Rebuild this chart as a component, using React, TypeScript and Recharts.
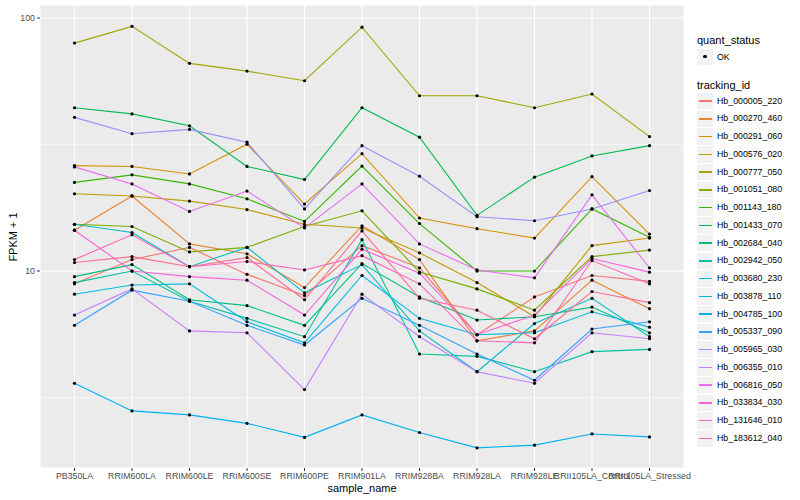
import React from 'react';
import { LineChart, Line, XAxis, YAxis, CartesianGrid, ReferenceLine } from 'recharts';

const samples = [
  'PB350LA', 'RRIM600LA', 'RRIM600LE', 'RRIM600SE', 'RRIM600PE', 'RRIM901LA',
  'RRIM928BA', 'RRIM928LA', 'RRIM928LE', 'RRII105LA_Control', 'RRII105LA_Stressed',
];

const trackingIds = [
  'Hb_000005_220', 'Hb_000270_460', 'Hb_000291_060', 'Hb_000576_020', 'Hb_000777_050',
  'Hb_001051_080', 'Hb_001143_180', 'Hb_001433_070', 'Hb_002684_040', 'Hb_002942_050',
  'Hb_003680_230', 'Hb_003878_110', 'Hb_004785_100', 'Hb_005337_090', 'Hb_005965_030',
  'Hb_006355_010', 'Hb_006816_050', 'Hb_033834_030', 'Hb_131646_010', 'Hb_183612_040',
];

const lineColors = [
  '#F8766D', '#EA8331', '#D89000', '#C09B00', '#A3A500',
  '#7CAE00', '#39B600', '#00BB4E', '#00BF7D', '#00C1A3',
  '#00BFC4', '#00BAE0', '#00B0F6', '#35A2FF', '#9590FF',
  '#C77CFF', '#E76BF3', '#FA62DB', '#FF62BC', '#FF6C91',
];

// FPKM + 1, one value per sample
const hb000005 = [8.9, 11.1, 12.4, 9.7, 8.0, 12.6, 10.3, 5.6, 7.9, 9.6, 9.1];
const hb000270 = [14.5, 19.8, 12.8, 11.7, 8.6, 15.1, 11.1, 5.3, 5.8, 9.2, 7.1];
const hb000291 = [26.1, 25.9, 24.2, 31.7, 18.4, 29.1, 16.2, 14.7, 13.5, 23.6, 14.0];
const hb000576 = [20.2, 19.8, 18.9, 17.5, 15.3, 14.8, 11.8, 9.0, 6.6, 12.6, 13.5];
const hb000777 = [79.6, 92.7, 66.2, 61.7, 56.5, 92.0, 49.3, 49.3, 44.2, 50.1, 34.0];
const hb001051 = [15.3, 15.0, 11.9, 12.4, 15.0, 17.3, 9.9, 8.5, 7.0, 11.4, 12.1];
const hb001143 = [22.4, 24.0, 22.1, 19.3, 15.7, 26.0, 15.4, 10.0, 10.0, 17.6, 13.6];
const hb001433 = [44.2, 41.8, 37.5, 25.9, 23.0, 44.2, 33.8, 16.6, 23.5, 28.5, 31.3];
const hb002684 = [9.5, 10.6, 7.7, 7.3, 6.1, 10.7, 7.9, 6.4, 6.6, 7.2, 5.7];
const hb002942 = [9.0, 10.0, 7.6, 6.5, 5.5, 13.3, 4.7, 4.6, 4.0, 4.8, 4.9];
const hb003680 = [15.3, 14.2, 10.4, 12.4, 8.2, 10.6, 5.8, 4.0, 6.2, 7.8, 5.5];
const hb003878 = [8.1, 8.8, 8.9, 6.3, 5.2, 9.6, 6.5, 5.6, 5.7, 6.9, 6.0];
const hb004785 = [3.6, 2.8, 2.7, 2.5, 2.2, 2.7, 2.3, 2.0, 2.05, 2.27, 2.21];
const hb005337 = [6.1, 8.4, 7.6, 6.1, 5.1, 7.8, 6.1, 4.7, 3.7, 5.9, 6.3];
const hb005965 = [40.5, 34.9, 36.3, 32.3, 17.6, 31.3, 23.7, 16.4, 15.8, 17.6, 20.8];
const hb006355 = [6.7, 8.5, 5.8, 5.7, 3.4, 8.1, 5.5, 4.0, 3.6, 5.7, 5.4];
const hb006816 = [25.8, 22.1, 17.2, 20.7, 14.8, 22.1, 12.8, 10.1, 9.4, 20.0, 10.3];
const hb033834 = [14.5, 10.0, 9.5, 9.2, 6.7, 12.2, 9.8, 5.6, 6.7, 11.2, 9.9];
const hb131646 = [11.1, 13.9, 10.4, 10.9, 10.1, 11.5, 8.9, 5.3, 5.2, 11.0, 8.9];
const hb183612 = [10.8, 11.4, 10.4, 11.3, 7.7, 14.4, 7.8, 7.0, 5.4, 8.3, 7.5];

const seriesValues = [
  hb000005, hb000270, hb000291, hb000576, hb000777,
  hb001051, hb001143, hb001433, hb002684, hb002942,
  hb003680, hb003878, hb004785, hb005337, hb005965,
  hb006355, hb006816, hb033834, hb131646, hb183612,
];

const yTicks = [10, 100];
const yMinor = [3.1623, 31.623];

const data = samples.map((s, i) => {
  const row: Record<string, any> = { sample: s };
  trackingIds.forEach((id, k) => { row[id] = seriesValues[k][i]; });
  return row;
});

const FONT = '"Liberation Sans", Arial, Helvetica, sans-serif';
const tickStyle = { fontSize: 8.8, fill: '#4D4D4D', fontFamily: FONT };

const App: React.FC = () => {
  return (
    <div style={{ position: 'absolute', left: 0, top: 0, width: 800, height: 500, background: '#fff', fontFamily: FONT }}>
      <LineChart width={800} height={500} data={data} margin={{ top: 5, right: 116, bottom: 0, left: 0 }}>
        <CartesianGrid fill="#EBEBEB" stroke="#FFFFFF" strokeWidth={1.07} />
        {yMinor.map((v) => (
          <ReferenceLine key={v} y={v} stroke="#FFFFFF" strokeWidth={0.55} />
        ))}
        <XAxis
          dataKey="sample"
          interval={0}
          padding={{ left: 34.5, right: 34.5 }}
          height={32}
          axisLine={false}
          tickLine={{ stroke: '#333333' }}
          tickSize={3}
          tick={tickStyle}
          label={{ value: 'sample_name', position: 'insideBottom', offset: 8, fontSize: 11, fill: '#000', fontFamily: FONT }}
        />
        <YAxis
          type="number"
          scale="log"
          domain={[1.665, 112.6]}
          allowDataOverflow
          ticks={yTicks}
          width={40}
          axisLine={false}
          tickLine={{ stroke: '#333333' }}
          tickSize={3}
          tick={tickStyle}
        />
        {trackingIds.map((id, k) => (
          <Line
            key={id}
            dataKey={id}
            stroke={lineColors[k]}
            strokeWidth={1.1}
            dot={false}
            activeDot={false}
            isAnimationActive={false}
          />
        ))}
        {trackingIds.map((id) => (
          <Line
            key={id + '_pts'}
            dataKey={id}
            stroke="none"
            dot={{ r: 1.6, fill: '#000', stroke: 'none' }}
            activeDot={false}
            isAnimationActive={false}
          />
        ))}
      </LineChart>

      <div style={{ position: 'absolute', left: 13, top: 237, transform: 'translate(-50%, -50%) rotate(-90deg)', fontSize: 11, whiteSpace: 'nowrap' }}>
        FPKM + 1
      </div>

      <div style={{ position: 'absolute', left: 697, top: 33.5, fontSize: 11, whiteSpace: 'nowrap' }}>quant_status</div>
      <div style={{ position: 'absolute', left: 697, top: 48.5, width: 16.3, height: 16.3, background: '#F2F2F2' }}>
        <div style={{ position: 'absolute', left: 6.4, top: 6.4, width: 3.4, height: 3.4, borderRadius: '50%', background: '#000' }} />
      </div>
      <div style={{ position: 'absolute', left: 717, top: 51.5, fontSize: 8.8, whiteSpace: 'nowrap' }}>OK</div>

      <div style={{ position: 'absolute', left: 697, top: 78.5, fontSize: 11, whiteSpace: 'nowrap' }}>tracking_id</div>
      {trackingIds.map((id, k) => {
        const cy = 101 + 17.75 * k;
        return (
          <React.Fragment key={id}>
            <div style={{ position: 'absolute', left: 697, top: cy - 8.2, width: 16.3, height: 16.6, background: '#F2F2F2' }}>
              <div style={{ position: 'absolute', left: 1.5, top: 7.6, width: 13.3, height: 1.4, background: lineColors[k] }} />
            </div>
            <div style={{ position: 'absolute', left: 717, top: cy - 5.5, fontSize: 8.8, whiteSpace: 'nowrap', lineHeight: '11px' }}>{id}</div>
          </React.Fragment>
        );
      })}
    </div>
  );
};

export default App;
